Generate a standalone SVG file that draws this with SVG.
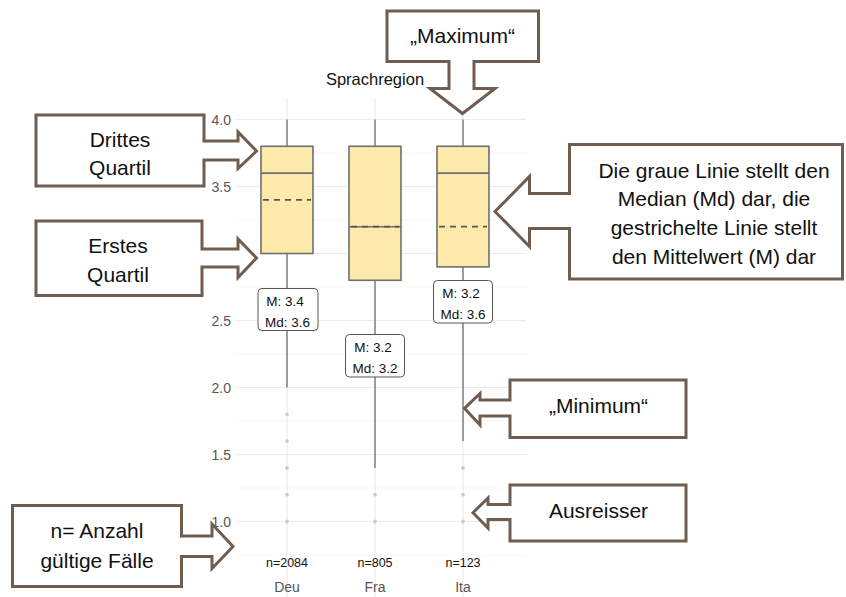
<svg xmlns="http://www.w3.org/2000/svg" width="846" height="597" viewBox="0 0 846 597">
<style>
.gmaj{stroke:#ebebeb;stroke-width:1.2;fill:none}
.gmin{stroke:#f3f3f3;stroke-width:0.7;fill:none}
.ax{font-family:"Liberation Sans",Arial,sans-serif;font-size:14px;fill:#555}
.box{fill:#fdeaab;stroke:#6f6f6f;stroke-width:1.6}
.med{stroke:#6f6f6f;stroke-width:1.6}
.mean{stroke:#555;stroke-width:1.8;stroke-dasharray:6,5}
.wh{stroke:#6f6f6f;stroke-width:1.3}
.out{fill:#cccccc}
.lbl{fill:#fff;stroke:#555;stroke-width:1}
.lt{font-family:"Liberation Sans",Arial,sans-serif;font-size:13.5px;fill:#111;text-anchor:middle}
.nt{font-family:"Liberation Sans",Arial,sans-serif;font-size:12.5px;fill:#111;text-anchor:middle}
.co{fill:#fff;stroke:#6f5d50;stroke-width:3;stroke-linejoin:miter}
.ct{font-family:"Liberation Sans",Arial,sans-serif;font-size:21px;fill:#111;text-anchor:middle}
</style>

<g id="grid">
  <g class="gmin">
    <line x1="235" y1="153" x2="526" y2="153"/>
    <line x1="235" y1="220" x2="526" y2="220"/>
    <line x1="235" y1="287" x2="526" y2="287"/>
    <line x1="235" y1="354" x2="526" y2="354"/>
    <line x1="235" y1="421" x2="526" y2="421"/>
    <line x1="235" y1="488" x2="526" y2="488"/>
    <line x1="235" y1="555" x2="526" y2="555"/>
  </g>
  <g class="gmaj">
    <line x1="235" y1="119.5" x2="526" y2="119.5"/>
    <line x1="235" y1="186.5" x2="526" y2="186.5"/>
    <line x1="235" y1="253.5" x2="526" y2="253.5"/>
    <line x1="235" y1="320.5" x2="526" y2="320.5"/>
    <line x1="235" y1="387.5" x2="526" y2="387.5"/>
    <line x1="235" y1="454.5" x2="526" y2="454.5"/>
    <line x1="235" y1="521.5" x2="526" y2="521.5"/>
    <line x1="287" y1="98" x2="287" y2="597"/>
    <line x1="375" y1="98" x2="375" y2="597"/>
    <line x1="463" y1="98" x2="463" y2="597"/>
  </g>
</g>

<g id="y-axis" class="ax" text-anchor="end">
  <text x="231" y="124.5">4.0</text>
  <text x="231" y="191.5">3.5</text>
  <text x="231" y="258.5">3.0</text>
  <text x="231" y="325.5">2.5</text>
  <text x="231" y="392.5">2.0</text>
  <text x="231" y="459.5">1.5</text>
  <text x="231" y="526.5">1.0</text>
</g>

<g id="x-axis" class="ax" text-anchor="middle">
  <text x="287" y="592">Deu</text>
  <text x="375" y="592">Fra</text>
  <text x="463" y="592">Ita</text>
</g>

<text id="title" x="375" y="85" font-family="Liberation Sans, Arial, sans-serif" font-size="16.5" fill="#111" text-anchor="middle">Sprachregion</text>

<g id="box-deu">
  <line class="wh" x1="287" y1="119.5" x2="287" y2="146.3"/>
  <line class="wh" x1="287" y1="253.5" x2="287" y2="387.5"/>
  <rect class="box" x="261" y="146.3" width="52" height="107.2"/>
  <line class="med" x1="261" y1="173.1" x2="313" y2="173.1"/>
  <line class="mean" x1="263" y1="199.9" x2="311" y2="199.9"/>
  <g class="out">
    <circle cx="287" cy="414.3" r="1.9"/>
    <circle cx="287" cy="441.1" r="1.9"/>
    <circle cx="287" cy="467.9" r="1.9"/>
    <circle cx="287" cy="494.7" r="1.9"/>
    <circle cx="287" cy="521.5" r="1.9"/>
  </g>
  <rect class="lbl" x="258" y="288.5" width="60" height="42" rx="4"/>
  <text class="lt" x="285" y="305.5">M: 3.4</text>
  <text class="lt" x="287.5" y="326.5">Md: 3.6</text>
  <text class="nt" x="287" y="567">n=2084</text>
</g>

<g id="box-fra">
  <line class="wh" x1="375" y1="119.5" x2="375" y2="146.3"/>
  <line class="wh" x1="375" y1="280.3" x2="375" y2="467.9"/>
  <rect class="box" x="349" y="146.3" width="52" height="134"/>
  <line class="med" x1="349" y1="226.7" x2="401" y2="226.7"/>
  <line class="mean" x1="351" y1="226.7" x2="399" y2="226.7"/>
  <g class="out">
    <circle cx="375" cy="494.7" r="1.9"/>
    <circle cx="375" cy="521.5" r="1.9"/>
  </g>
  <rect class="lbl" x="345.5" y="334.5" width="59" height="42.5" rx="4"/>
  <text class="lt" x="373" y="351.5">M: 3.2</text>
  <text class="lt" x="375" y="372.5">Md: 3.2</text>
  <text class="nt" x="375" y="567">n=805</text>
</g>

<g id="box-ita">
  <line class="wh" x1="463" y1="119.5" x2="463" y2="146.3"/>
  <line class="wh" x1="463" y1="266.9" x2="463" y2="441.1"/>
  <rect class="box" x="437" y="146.3" width="52" height="120.6"/>
  <line class="med" x1="437" y1="173.1" x2="489" y2="173.1"/>
  <line class="mean" x1="439" y1="226.7" x2="487" y2="226.7"/>
  <g class="out">
    <circle cx="463" cy="467.9" r="1.9"/>
    <circle cx="463" cy="494.7" r="1.9"/>
    <circle cx="463" cy="521.5" r="1.9"/>
  </g>
  <rect class="lbl" x="433.5" y="280.5" width="59" height="42.5" rx="4"/>
  <text class="lt" x="461" y="297.5">M: 3.2</text>
  <text class="lt" x="463" y="318.5">Md: 3.6</text>
  <text class="nt" x="463" y="567">n=123</text>
</g>

<g id="callout-drittes">
  <path class="co" d="M36,115 H204 V141 H238 V132 L256.5,151 L238,168.5 V160 H204 V186 H36 Z"/>
  <text class="ct" x="120" y="147">Drittes</text>
  <text class="ct" x="120" y="175">Quartil</text>
</g>

<g id="callout-erstes">
  <path class="co" d="M36,221 H202 V249 H238 V239 L256.5,258 L238,277.5 V267 H202 V295.5 H36 Z"/>
  <text class="ct" x="118" y="252.5">Erstes</text>
  <text class="ct" x="118" y="282">Quartil</text>
</g>

<g id="callout-maximum">
  <path class="co" d="M387,11 H538.5 V61.5 H474 V88.5 H495 L462.5,113.5 L430,88.5 H449 V61.5 H387 Z"/>
  <text class="ct" x="462.5" y="42.5">„Maximum“</text>
</g>

<g id="callout-median">
  <path class="co" d="M569.5,144.5 H842.5 V279 H569.5 V228.5 H529.5 V246.5 L495,211.5 L529.5,176.5 V193.5 H569.5 Z"/>
  <text class="ct" x="714" y="177.5">Die graue Linie stellt den</text>
  <text class="ct" x="714" y="205.5">Median (Md) dar, die</text>
  <text class="ct" x="714" y="235">gestrichelte Linie stellt</text>
  <text class="ct" x="714" y="263.5">den Mittelwert (M) dar</text>
</g>

<g id="callout-minimum">
  <path class="co" d="M510,380 H686 V437.5 H510 V416 H480 V425 L464.5,408.3 L480,393.5 V400 H510 Z"/>
  <text class="ct" x="598.5" y="413">„Minimum“</text>
</g>

<g id="callout-ausreisser">
  <path class="co" d="M510,485 H686 V541 H510 V519.5 H488 V528 L473,512.7 L488,498 V504.5 H510 Z"/>
  <text class="ct" x="598.5" y="517.5">Ausreisser</text>
</g>

<g id="callout-n">
  <path class="co" d="M12.5,505.5 H181.5 V536 H212 V524 L233,546.5 L212,568.5 V556.5 H181.5 V586.5 H12.5 Z"/>
  <text class="ct" x="97" y="537.5">n= Anzahl</text>
  <text class="ct" x="97" y="568">gültige Fälle</text>
</g>
</svg>
